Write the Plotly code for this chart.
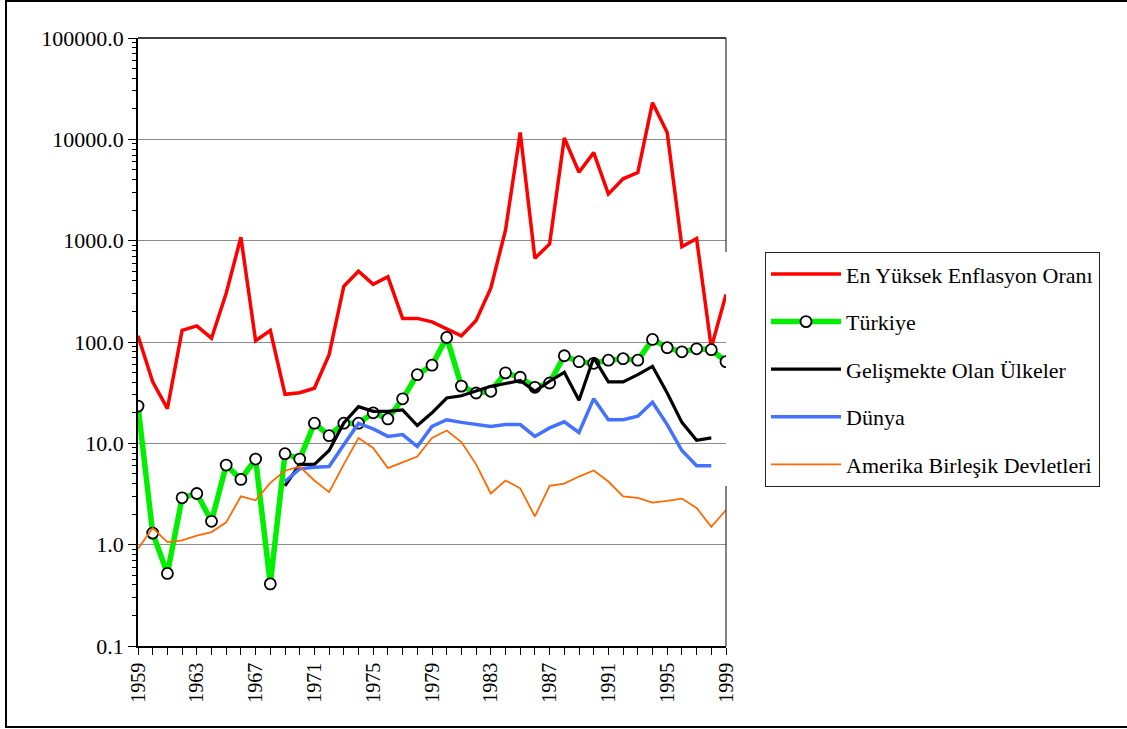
import plotly.graph_objects as go

years = list(range(1959, 2000))

en_yuksek = [115, 40.5, 22, 130, 144, 109, 303, 1080, 103, 130,
             30.5, 31.6, 35, 75, 355, 500, 370, 440, 171, 171,
             158, 136, 115, 163, 340, 1270, 11700, 670, 927, 10300,
             4730, 7400, 2880, 4080, 4700, 23000, 11700, 870, 1050, 88, 295]

turkiye = [23.3, 1.3, 0.52, 2.9, 3.2, 1.7, 6.1, 4.4, 7.0, 0.41,
           7.9, 7.0, 15.8, 11.9, 15.8, 15.8, 20.0, 17.4, 27.5, 47.6,
           59, 111, 36.7, 31.4, 32.6, 49.6, 44.9, 35.7, 39.4, 73.2,
           63.9, 61.6, 66.1, 68.5, 66.1, 106, 88, 80, 85.7, 84, 64]

gelismekte_years = list(range(1969, 1999))
gelismekte = [3.8, 6.2, 6.2, 8.5, 15.9, 23, 20.7, 20.7, 21.4, 15,
              20, 28, 29.5, 32.6, 36.5, 38.9, 41.7, 32.6, 41, 50.2,
              26.6, 70, 40.4, 40.4, 47.6, 57.5, 31.4, 16.1, 10.7, 11.3]

dunya_years = list(range(1969, 1999))
dunya = [4.2, 5.6, 5.8, 5.9, 9.7, 15.7, 13.9, 11.7, 12.2, 9.3,
         14.7, 17.1, 16.1, 15.3, 14.7, 15.3, 15.3, 11.7, 14.2, 16.3,
         12.8, 27.6, 17.1, 17.1, 18.5, 25.4, 15.3, 8.5, 6.0, 6.0]

abd = [0.91, 1.46, 1.06, 1.1, 1.23, 1.33, 1.66, 3.0, 2.74, 4.07,
       5.37, 5.9, 4.3, 3.3, 6.2, 11.3, 9.0, 5.7, 6.5, 7.4,
       11.3, 13.4, 10.3, 6.2, 3.2, 4.3, 3.6, 1.9, 3.8, 4.0,
       4.7, 5.4, 4.2, 3.0, 2.9, 2.6, 2.7, 2.85, 2.3, 1.5, 2.2]

names = ["En Yüksek Enflasyon Oranı", "Türkiye", "Gelişmekte Olan Ülkeler",
         "Dünya", "Amerika Birleşik Devletleri"]

y_tickvals = [0.1, 1, 10, 100, 1000, 10000, 100000]
y_ticktext = ["0.1", "1.0", "10.0", "100.0", "1000.0", "10000.0", "100000.0"]
x_tickvals = list(range(1959, 2000, 4))

FONT = "Liberation Serif"

fig = go.Figure()
fig.add_trace(go.Scatter(x=years, y=en_yuksek, name=names[0], mode="lines",
                         line=dict(color="#ff0000", width=3.5), legendgroup="a"))
fig.add_trace(go.Scatter(x=years, y=turkiye, name=names[1], mode="lines+markers",
                         line=dict(color="#00f000", width=5.5),
                         marker=dict(symbol="circle", size=11, color="white",
                                     line=dict(color="black", width=1.8)),
                         legendgroup="b"))
fig.add_trace(go.Scatter(x=gelismekte_years, y=gelismekte, name=names[2], mode="lines",
                         line=dict(color="#000000", width=3.2), legendgroup="c"))
fig.add_trace(go.Scatter(x=dunya_years, y=dunya, name=names[3], mode="lines",
                         line=dict(color="#4472ff", width=3.5), legendgroup="d"))
fig.add_trace(go.Scatter(x=years, y=abd, name=names[4], mode="lines",
                         line=dict(color="#ff6a00", width=1.8), legendgroup="e"))

# plot frame: top and right border (right border interrupted near legend)
fig.add_shape(type="line", xref="paper", yref="paper", x0=0, x1=1, y0=1, y1=1,
              line=dict(color="black", width=1.5))
fig.add_shape(type="line", xref="paper", yref="paper", x0=1, x1=1, y0=1, y1=0.648,
              line=dict(color="#333333", width=1.2))
fig.add_shape(type="line", xref="paper", yref="paper", x0=1, x1=1, y0=0.263, y1=0,
              line=dict(color="#333333", width=1.2))
# outer chart border
fig.add_shape(type="rect", xref="paper", yref="paper",
              x0=-0.2245, x1=1.69, y0=-0.1332, y1=1.0609,
              line=dict(color="black", width=2), layer="below")

fig.update_layout(
    width=1127, height=729,
    margin=dict(l=138, r=401, t=38, b=83),
    paper_bgcolor="white", plot_bgcolor="white",
    font=dict(family=FONT, size=22, color="black"),
    showlegend=True,
    legend=dict(x=1.066, y=0.648, xanchor="left", yanchor="top",
                bordercolor="#222222", borderwidth=1.2, bgcolor="white",
                font=dict(family=FONT, size=22, color="black"),
                itemwidth=70, tracegroupgap=16, traceorder="grouped"),
    xaxis=dict(range=[1959, 1999], tickmode="array", tickvals=x_tickvals,
               tickangle=-90, ticks="outside", ticklen=7, tickwidth=1,
               tickcolor="black", showline=True, linecolor="black", linewidth=1.5,
               showgrid=False, zeroline=False,
               minor=dict(ticks="outside", ticklen=7, dtick=1, tickcolor="black",
                          tickwidth=1, showgrid=False),
               tickfont=dict(family=FONT, size=20)),
    yaxis=dict(type="log", range=[-1, 5], tickmode="array", tickvals=y_tickvals,
               ticktext=y_ticktext, ticks="outside", ticklen=8, tickwidth=1,
               tickcolor="black", showline=True, linecolor="black", linewidth=1.5,
               showgrid=True, gridcolor="#8c8c8c", gridwidth=1.2, zeroline=False,
               minor=dict(ticks="outside", ticklen=4, dtick="D1", tickcolor="black",
                          tickwidth=1, showgrid=False),
               tickfont=dict(family=FONT, size=22)),
)

fig.write_html("out.html", config={"displayModeBar": False},
               post_script="document.body.style.margin='0';document.body.style.overflow='hidden';")
